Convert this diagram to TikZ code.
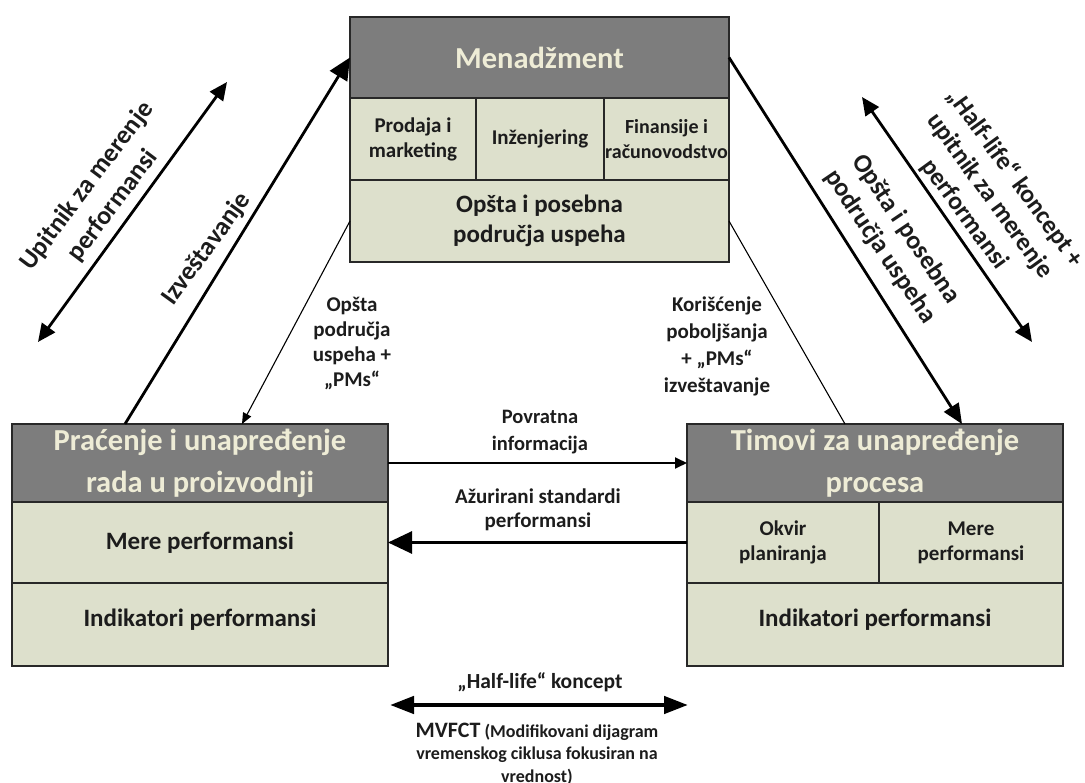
\documentclass[tikz,border=0pt]{standalone}
\usepackage{fontspec}
\setmainfont{Carlito}
\usetikzlibrary{arrows.meta,calc}
\definecolor{headfill}{RGB}{125,125,125}
\definecolor{bodyfill}{RGB}{221,224,204}
\definecolor{headtext}{RGB}{238,236,214}
\definecolor{frame}{RGB}{40,40,40}
\definecolor{ink}{RGB}{28,28,28}
\newcommand{\fsz}[2]{\fontsize{#1}{#2}\selectfont}
\begin{document}
\begin{tikzpicture}[x=1pt,y=-1pt,
  cell/.style={draw=frame, line width=1.6pt, inner sep=0pt, outer sep=0pt,
    anchor=north west, align=center, text=ink, font=\bfseries\fsz{21}{25}},
  headcell/.style={cell, fill=headfill, text=headtext, font=\bfseries\fsz{30.5}{42}},
  bodycell/.style={cell, fill=bodyfill},
  bigcell/.style={bodycell, font=\bfseries\fsz{25}{30}},
  lbl/.style={align=center, text=ink, inner sep=0pt, font=\bfseries\fsz{21}{25}},
  slant/.style={align=center, text=ink, inner sep=0pt, font=\bfseries\fsz{26}{32.5}},
  heavy/.style={draw=black, line width=2.8pt},
  thin/.style={draw=black, line width=1.1pt},
  bigtip/.style={-{Triangle[length=22pt,width=20pt]}},
  dbltip/.style={{Triangle[length=18pt,width=16pt]}-{Triangle[length=18pt,width=16pt]}},
  smalltip/.style={-{Triangle[length=11pt,width=9pt]}}
]
\useasboundingbox (0,0) rectangle (1085,783);

% --- Menadzment block ---
\node[headcell, minimum width=379pt, minimum height=81pt] (mh) at (350,17) {Menadžment};
\node[bodycell, minimum width=126pt, minimum height=82pt] (ms) at (350,98) {Prodaja i\\marketing};
\node[bodycell, minimum width=128pt, minimum height=82pt] (me) at (476,98) {Inženjering};
\node[bodycell, minimum width=125pt, minimum height=82pt, font=\bfseries\fsz{20}{25}] (mf) at (604,98) {Finansije i\\računovodstvo};
\node[bigcell, minimum width=379pt, minimum height=82pt] (mo) at (350,180) {Opšta i posebna\\područja uspeha};

% --- production block ---
\node[headcell, minimum width=376pt, minimum height=78pt] (ph) at (12,424) {Praćenje i unapređenje\\rada u proizvodnji};
\node[bigcell, minimum width=376pt, minimum height=81pt] (pm) at (12,502) {Mere performansi};
\node[bigcell, minimum width=376pt, minimum height=83pt, text depth=14pt] (pi) at (12,583) {Indikatori performansi};

% --- process teams block ---
\node[headcell, minimum width=376pt, minimum height=78pt] (th) at (687,424) {Timovi za unapređenje\\procesa};
\node[bodycell, minimum width=192pt, minimum height=81pt] (tk) at (687,502) {Okvir\\planiranja};
\node[bodycell, minimum width=184pt, minimum height=81pt] (tm) at (879,502) {Mere\\performansi};
\node[bigcell, minimum width=376pt, minimum height=83pt, text depth=14pt] (ti) at (687,583) {Indikatori performansi};

% --- free arrow ends ---
\coordinate (u1) at (38,342);
\coordinate (u2) at (227,82);
\coordinate (r1) at (862,97);
\coordinate (r2) at (1032,342);
\coordinate (h1) at (390,705);
\coordinate (h2) at (688,705);

% --- connectors ---
\draw[heavy, bigtip] ($(ph.north west)+(113,0)$) -- (mh.west);
\draw[heavy, dbltip] (u1) -- (u2);
\draw[thin, smalltip] (mo.west) -- ($(ph.north west)+(230,0)$);
\draw[heavy, -{Triangle[length=20pt,width=17pt]}] (mh.east) -- ($(th.north west)+(275,0)$);
\draw[thin] (mo.east) -- ($(th.north west)+(158,0)$);
\draw[heavy, dbltip] (r1) -- (r2);
\draw[draw=black, line width=1.8pt, -{Triangle[length=12pt,width=11pt]}] (ph.east) -- (th.west);
\draw[heavy, -{Triangle[length=24pt,width=22pt]}] (tk.west) -- (pm.east);
\draw[draw=black, line width=4.5pt, {Triangle[length=24pt,width=17pt]}-{Triangle[length=24pt,width=17pt]}] (h1) -- (h2);

% --- labels ---
\node[slant, rotate=53] (lu) at (100,196) {Upitnik za merenje\\performansi};
\node[slant, rotate=54] (li) at (207,249) {Izveštavanje};
\node[slant, rotate=-54, font=\bfseries\fsz{25.5}{31}] (lr) at (990,196) {„Half-life“ koncept +\\upitnik za merenje\\performansi};
\node[slant, rotate=-56, font=\bfseries\fsz{26}{31}] (lo) at (893,238) {Opšta i posebna\\područja uspeha};
\node[lbl] (lg) at (352,343) {Opšta\\područja\\uspeha +\\„PMs“};
\node[lbl, font=\bfseries\fsz{21}{27}] (lk) at (717,346) {Korišćenje\\poboljšanja\\+ „PMs“\\izveštavanje};
\node[lbl, font=\bfseries\fsz{20.5}{27}] (lp) at (540,432) {Povratna\\informacija};
\node[lbl, font=\bfseries\fsz{21}{24}] (la) at (538,510) {Ažurirani standardi\\performansi};
\node[lbl, font=\bfseries\fsz{21.5}{25}] (lh) at (540,682) {„Half-life“ koncept};
\node[lbl, font=\bfseries\fsz{18}{22.5}] (lm) at (537,754) {{\fsz{22}{22.5}MVFCT} (Modifikovani dijagram\\vremenskog ciklusa fokusiran na\\vrednost)};
\end{tikzpicture}
\end{document}
